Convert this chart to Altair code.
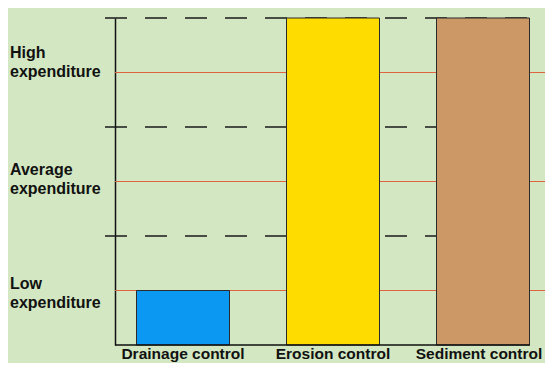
import altair as alt
import pandas as pd

categories = ["Drainage control", "Erosion control", "Sediment control"]
values = [0.5, 3.0, 3.0]
bar_colors = ["#0a98f2", "#ffdc00", "#cc9866"]

level_values = [0.5, 1.5, 2.5]
level_labels = [["Low", "expenditure"], ["Average", "expenditure"], ["High", "expenditure"]]
divider_values = [1, 2, 3]

FONT = "Liberation Sans, Arial, Helvetica, sans-serif"
BG = "#d3e8c2"

PLOT_W = 430
PLOT_H = 327

bars_df = pd.DataFrame({"category": categories, "value": values, "color": bar_colors})
levels_df = pd.DataFrame({"level": level_values, "label": level_labels})
dividers_df = pd.DataFrame({"level": divider_values})

y_scale = alt.Scale(domain=[0, 3], nice=False, zero=True)
x_scale = alt.Scale(domain=categories, range=[-7, 443], paddingInner=0.38, paddingOuter=0.19)

red_lines = alt.Chart(levels_df).mark_rule(color="#e0643f", strokeWidth=1).encode(
    y=alt.Y("level:Q", scale=y_scale, axis=alt.Axis(
        title=None,
        ticks=False,
        grid=False,
        labels=False,
        domain=True,
        domainColor="#111111",
        domainWidth=1.5,
    )),
    x=alt.value(0),
    x2=alt.value(PLOT_W),
)

level_text = alt.Chart(levels_df).mark_text(
    align="left",
    baseline="middle",
    font=FONT,
    fontSize=16,
    fontWeight="bold",
    color="#111111",
    lineHeight=19,
    dy=alt.expr("datum.level > 2 ? -20 : (datum.level > 1 ? -12 : -7)"),
).encode(
    y=alt.Y("level:Q", scale=y_scale),
    x=alt.value(-105),
    text="label",
)

dashed = alt.Chart(dividers_df).mark_rule(color="#1a1a1a", strokeWidth=1.6, strokeDash=[22, 18]).encode(
    y=alt.Y("level:Q", scale=y_scale),
    x=alt.value(-10),
    x2=alt.value(PLOT_W),
)

bars = alt.Chart(bars_df).mark_bar(stroke="#2b2b2b", strokeWidth=1).encode(
    x=alt.X("category:N", scale=x_scale, sort=categories, axis=None),
    y=alt.Y("value:Q", scale=y_scale),
    color=alt.Color("color:N", scale=None, legend=None),
)

cat_text = alt.Chart(bars_df).mark_text(
    align="center",
    baseline="top",
    font=FONT,
    fontSize=15.5,
    fontWeight="bold",
    color="#111111",
    dy=2,
    dx=alt.expr("datum.category == 'Sediment control' ? -4 : 0"),
).encode(
    x=alt.X("category:N", scale=x_scale, sort=categories, axis=None),
    y=alt.value(PLOT_H),
    text="category:N",
)

baseline = alt.Chart(levels_df.head(1)).mark_rule(color="#111111", strokeWidth=1.5).encode(
    y=alt.value(PLOT_H),
    x=alt.value(0),
    x2=alt.value(415),
)

chart = alt.layer(red_lines, dashed, bars, baseline, level_text, cat_text).properties(
    width=PLOT_W,
    height=PLOT_H,
    autosize=alt.AutoSizeParams(type="none"),
    padding={"left": 107, "top": 10, "right": 0, "bottom": 18},
    background=BG,
).configure_view(stroke=None)

chart.save("out.html", embed_options={"renderer": "svg", "actions": False})
